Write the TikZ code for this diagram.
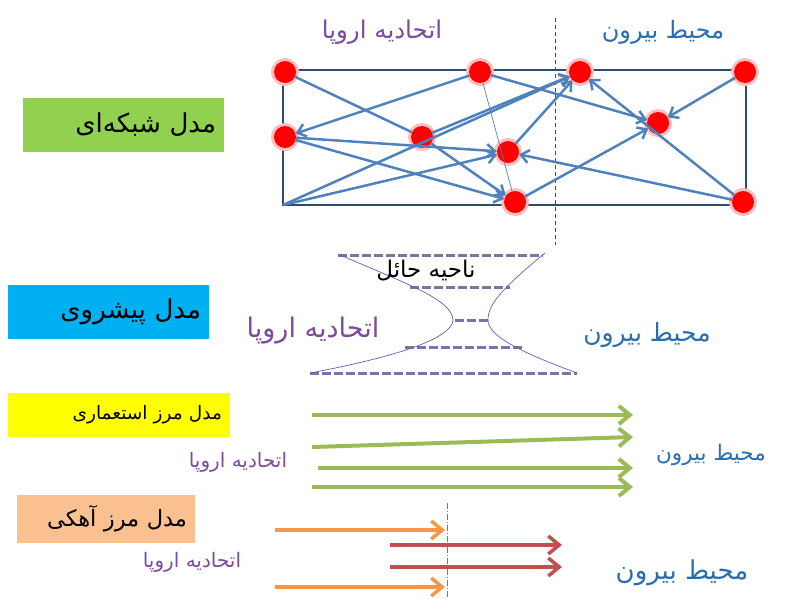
\documentclass[tikz,border=0pt]{standalone}
\usepackage{fontspec}
\usetikzlibrary{arrows.meta}
\newfontfamily\arabicfont[Script=Arabic]{DejaVu Sans}
\TeXXeTstate=1
\newcommand\fa[1]{\arabicfont\beginR #1\endR}
\newcommand\fs[1]{\fontsize{#1}{#1}\selectfont}
\definecolor{linkblue}{HTML}{4F81BD}
\definecolor{framegray}{HTML}{2E4A6E}
\definecolor{eupurple}{HTML}{7E4A9E}
\definecolor{outblue}{HTML}{2A6EB0}
\definecolor{bufgray}{HTML}{7F71A0}
\definecolor{netgreen}{HTML}{92D050}
\definecolor{advcyan}{HTML}{00B0F0}
\definecolor{colyellow}{HTML}{FFFF00}
\definecolor{limeorange}{HTML}{FAC090}
\definecolor{arrgreen}{HTML}{9BBB59}
\definecolor{arrorange}{HTML}{F79646}
\definecolor{arrred}{HTML}{C0504D}
\tikzset{
  city/.style={circle,fill=red,minimum size=22pt,inner sep=0pt,
    preaction={draw=red!25,line width=6pt}},
  link/.style={linkblue,line width=2.5pt,-{Straight Barb[length=8pt,width=13pt]}},
  modelbox/.style={inner xsep=8pt,inner ysep=0pt,align=right,font=\fs{26}},
  eulabel/.style={text=eupurple},
  outlabel/.style={text=outblue},
  bufline/.style={bufgray,line width=3pt,dash pattern=on 9pt off 3pt},
  flow/.style={line width=4pt,-{Straight Barb[length=11pt,width=18pt]}}
}
\begin{document}
\begin{tikzpicture}[x=1pt,y=-1pt]
\useasboundingbox (0,0) rectangle (792,598);

% network model
\node[modelbox,fill=netgreen,minimum width=201pt,minimum height=54pt,text width=185pt] (netbox) at (123.5,125) {\fa{مدل شبکه^^^^200cای}};
\node[eulabel,font=\fs{24.5}] (euTop) at (382,32) {\fa{اتحادیه اروپا}};
\node[outlabel,font=\fs{24}] (outTop) at (663,32) {\fa{محیط بیرون}};
\draw[framegray,line width=1.5pt] (283,70) rectangle (746,205);
\draw[red,line width=1pt,dash pattern=on 4pt off 3pt] (555,18) -- (555,245);
\coordinate (bl) at (283,205);
\node[city] (a) at (285,72) {};
\node[city] (b) at (480,72) {};
\node[city] (c) at (580,72) {};
\node[city] (d) at (745,72) {};
\node[city] (e) at (285,137) {};
\node[city] (f) at (422,137) {};
\node[city] (g) at (508,152) {};
\node[city] (h) at (658,123) {};
\node[city] (i) at (515,202) {};
\node[city] (j) at (743,202) {};
\draw[linkblue,line width=2.5pt] (a) -- (f);
\draw[link] (f) -- (i);
\draw[link] (e) -- (i);
\draw[link] (e) -- (g);
\draw[link] (bl) -- (g);
\draw[link] (bl) -- (c);
\draw[link] (f) -- (c);
\draw[link] (g) -- (c);
\draw[link] (b) -- (e);
\draw[link] (b) -- (h);
\draw[linkblue,line width=0.7pt] (b) -- (i);
\draw[link] (i) -- (h);
\draw[link] (j) -- (g);
\draw[link] (j) -- (c);
\draw[link] (d) -- (h);

% advance model
\node[modelbox,fill=advcyan,minimum width=201pt,minimum height=54pt,text width=185pt] (advbox) at (108.5,312) {\fa{مدل پیشروی}};
\draw[bufline] (338,255) -- (543,255);
\draw[bufline] (410,287) -- (510,287);
\draw[bufline] (455,320) -- (490,320);
\draw[bufline] (405,347) -- (523,347);
\draw[bufline] (310,373) -- (577,373);
\draw[bufgray!80!blue,line width=0.7pt] (340,255) .. controls (410,285) and (452,300) .. (453,320) .. controls (452,338) and (400,356) .. (310,373);
\draw[bufgray!80!blue,line width=0.7pt] (545,253) .. controls (500,290) and (488,305) .. (488,320) .. controls (488,336) and (520,352) .. (577,373);
\node[font=\fs{23}] (bufLbl) at (426,271) {\fa{ناحیه حائل}};
\node[eulabel,font=\fs{27}] (euAdv) at (313,331) {\fa{اتحادیه اروپا}};
\node[outlabel,font=\fs{25}] (outAdv) at (647,335) {\fa{محیط بیرون}};

% colonial frontier model
\node[modelbox,fill=colyellow,minimum width=222pt,minimum height=44pt,text width=206pt,font=\fs{18.5}] (colbox) at (119,415) {\fa{مدل مرز استعماری}};
\node[eulabel,font=\fs{20}] (euCol) at (238,462) {\fa{اتحادیه اروپا}};
\node[outlabel,font=\fs{21.5}] (outCol) at (711,455) {\fa{محیط بیرون}};
\foreach \n/\xa/\ya/\yb in {1/312/415/415,2/312/447/437,3/318/468/468,4/312/487/487}{
  \coordinate (gs\n) at (\xa,\ya);
  \coordinate (ge\n) at (633,\yb);
  \draw[flow,arrgreen] (gs\n) -- (ge\n);
}

% limes model
\node[modelbox,fill=limeorange,minimum width=178pt,minimum height=48pt,text width=162pt,font=\fs{22.5}] (limbox) at (106,519) {\fa{مدل مرز آهکی}};
\node[eulabel,font=\fs{20}] (euLim) at (192,562) {\fa{اتحادیه اروپا}};
\node[outlabel,font=\fs{26}] (outLim) at (682,573) {\fa{محیط بیرون}};
\draw[linkblue,line width=0.8pt,dash pattern=on 6pt off 2pt on 1pt off 2pt] (447,503) -- (447,598);
\foreach \n/\xa/\xb/\y/\c in {1/275/445/530/arrorange,2/390/562/545/arrred,3/390/562/567/arrred,4/275/445/587/arrorange}{
  \coordinate (ls\n) at (\xa,\y);
  \coordinate (le\n) at (\xb,\y);
  \draw[flow,line width=3.5pt,\c] (ls\n) -- (le\n);
}
\end{tikzpicture}
\end{document}
